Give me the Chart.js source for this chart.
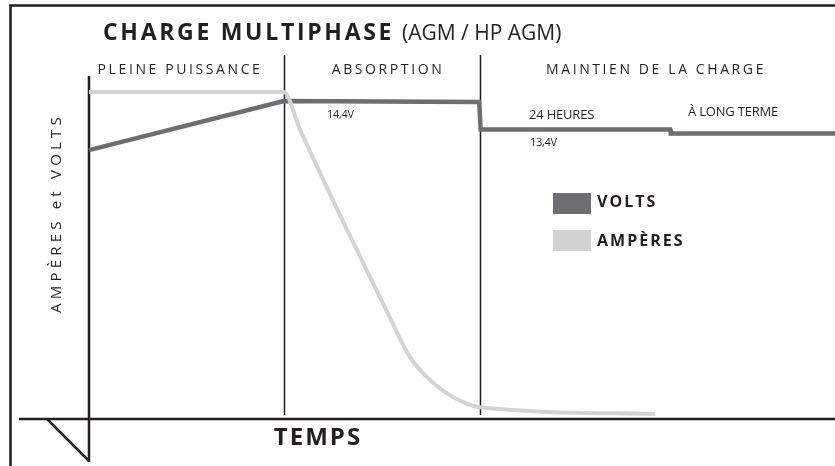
<!DOCTYPE html>
<html>
<head>
<meta charset="utf-8">
<script src="https://cdn.jsdelivr.net/npm/chart.js@4/dist/chart.umd.min.js"></script>
<style>
  html, body { margin: 0; padding: 0; background: #fff; }
  #wrap { width: 835px; height: 466px; }
</style>
</head>
<body>
<div id="wrap"><canvas id="charge" width="835" height="466"></canvas></div>
<script>
// time in arbitrary units (0..100), level in arbitrary units (0..100)
const voltsTime = [0, 26.1, 52.3, 52.5, 77.9, 78.0, 100];
const voltsLevel = [78.4, 92.7, 92.4, 84.4, 84.4, 83.2, 83.2];
const ampsTime = [0, 26.1, 28.3, 34.6, 40.3, 43.0, 45.7, 48.8, 52.4, 75.9];
const ampsLevel = [95.3, 95.3, 84.3, 55.1, 29.7, 18.1, 11.4, 6.4, 3.4, 1.5];
const phaseBounds = [26.1, 52.4];
const phaseNames = ['PLEINE PUISSANCE', 'ABSORPTION', 'MAINTIEN DE LA CHARGE'];
const seriesNames = ['VOLTS', 'AMPÈRES'];

const dark = '#231f20';
const voltsColor = '#6d6e71';
const ampsColor = '#d1d3d4';

const toPoints = (xs, ys) => xs.map((x, i) => ({ x: x, y: ys[i] }));

const txt = (ctx, s, x, y, font, align, spacing) => {
  ctx.font = font;
  ctx.textAlign = align || 'left';
  ctx.textBaseline = 'middle';
  ctx.letterSpacing = (spacing || 0) + 'px';
  ctx.fillText(s, x, y);
  ctx.letterSpacing = '0px';
};

const decor = {
  id: 'decor',
  beforeDatasetsDraw(chart) {
    const ctx = chart.ctx;
    const xs = chart.scales.x, ys = chart.scales.y;
    const x0 = xs.getPixelForValue(0), y0 = ys.getPixelForValue(0);
    ctx.save();
    ctx.strokeStyle = dark;
    ctx.lineCap = 'butt';
    // frame
    ctx.lineWidth = 2.5;
    ctx.beginPath();
    ctx.moveTo(10.5, 466); ctx.lineTo(10.5, 5.5); ctx.lineTo(835, 5.5);
    ctx.stroke();
    // phase dividers
    ctx.lineWidth = 1.5;
    phaseBounds.forEach(b => {
      const px = Math.round(xs.getPixelForValue(b)) + 0.5;
      ctx.beginPath(); ctx.moveTo(px, 55); ctx.lineTo(px, y0 - 4); ctx.stroke();
    });
    // axes
    ctx.lineWidth = 2.5;
    ctx.beginPath();
    ctx.moveTo(19, y0); ctx.lineTo(835, y0);
    ctx.moveTo(x0, ys.getPixelForValue(100)); ctx.lineTo(x0, 462);
    ctx.moveTo(47, y0); ctx.lineTo(x0, 461);
    ctx.stroke();
    ctx.restore();
  },
  afterDraw(chart) {
    const ctx = chart.ctx;
    ctx.save();
    ctx.fillStyle = dark;
    // title
    txt(ctx, 'CHARGE MULTIPHASE', 103, 33, 'bold 23px "Open Sans"', 'left', 2.7);
    txt(ctx, '(AGM / HP AGM)', 402, 34, '21px "Open Sans"', 'left', 0);
    // phase names
    const centers = [180, 388, 656];
    phaseNames.forEach((n, i) => txt(ctx, n, centers[i], 70, '14px "Open Sans"', 'center', 2.6));
    // annotations
    txt(ctx, '14,4V', 327, 115, '11px "Open Sans"', 'left', -0.3);
    txt(ctx, '24 HEURES', 529, 115, '13px "Open Sans"', 'left', -0.2);
    txt(ctx, 'À LONG TERME', 688, 112, '13px "Open Sans"', 'left', -0.2);
    txt(ctx, '13,4V', 530, 143, '11px "Open Sans"', 'left', -0.3);
    // legend
    ctx.fillStyle = voltsColor; ctx.fillRect(553, 193, 38, 21);
    ctx.fillStyle = ampsColor; ctx.fillRect(553, 230, 38, 21);
    ctx.fillStyle = dark;
    txt(ctx, seriesNames[0], 597, 202, 'bold 16px "Open Sans"', 'left', 2);
    txt(ctx, seriesNames[1], 597, 241, 'bold 16px "Open Sans"', 'left', 2);
    // axis titles
    txt(ctx, 'TEMPS', 318, 438, 'bold 24px "Open Sans"', 'center', 2);
    ctx.translate(57, 213);
    ctx.rotate(-Math.PI / 2);
    txt(ctx, 'AMPÈRES et VOLTS', 0, 0, '15px "Open Sans"', 'center', 4.2);
    ctx.restore();
  }
};

new Chart(document.getElementById('charge'), {
  type: 'line',
  data: {
    datasets: [{
      label: seriesNames[1],
      data: toPoints(ampsTime, ampsLevel),
      borderColor: ampsColor,
      borderWidth: 4,
      pointRadius: 0,
      cubicInterpolationMode: 'monotone'
    }, {
      label: seriesNames[0],
      data: toPoints(voltsTime, voltsLevel),
      borderColor: voltsColor,
      borderWidth: 4.5,
      pointRadius: 0,
      tension: 0
    }]
  },
  options: {
    responsive: false,
    animation: false,
    clip: false,
    layout: { padding: { left: 89, right: 0, top: 76, bottom: 47 } },
    plugins: { legend: { display: false }, tooltip: { enabled: false } },
    scales: {
      x: { type: 'linear', min: 0, max: 100, display: false },
      y: { min: 0, max: 100, display: false }
    }
  },
  plugins: [decor]
});
</script>
</body>
</html>
